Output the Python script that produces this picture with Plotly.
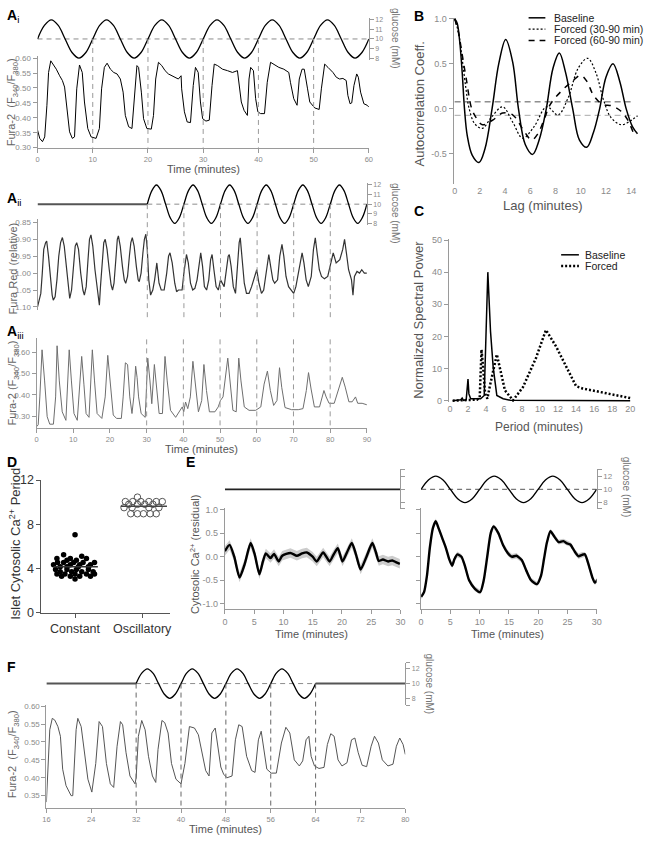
import numpy as np
import plotly.graph_objects as go

# ======================= DATA =======================
# --- Panel Ai: glucose (mM) sampled every 1.25 min, period 10 min
ai_glucose = [10, 11.41, 12, 11.41, 10, 8.59, 8, 8.59,
              10, 11.41, 12, 11.41, 10, 8.59, 8, 8.59,
              10, 11.41, 12, 11.41, 10, 8.59, 8, 8.59,
              10, 11.41, 12, 11.41, 10, 8.59, 8, 8.59,
              10, 11.41, 12, 11.41, 10, 8.59, 8, 8.59,
              10, 11.41, 12, 11.41, 10, 8.59, 8, 8.59, 10]
ai_marks = [10, 20, 30, 40, 50]
ai_fura = [(0, 0.359), (0.4, 0.331), (0.9, 0.32), (1.3, 0.336), (1.7, 0.442), (2.0, 0.552), (2.4, 0.591),
           (2.8, 0.58), (3.4, 0.563), (4.0, 0.541), (4.5, 0.525), (4.9, 0.503), (5.2, 0.453), (5.5, 0.397),
           (5.8, 0.353), (6.3, 0.331), (6.7, 0.336), (7.1, 0.497), (7.6, 0.577), (8.1, 0.552), (8.5, 0.453),
           (9.1, 0.364), (9.7, 0.336), (10.6, 0.331), (11.2, 0.364), (11.6, 0.497), (12.1, 0.569), (12.6, 0.583),
           (13.2, 0.563), (13.8, 0.552), (14.4, 0.547), (15.0, 0.53), (15.5, 0.486), (15.9, 0.408), (16.5, 0.37),
           (17.1, 0.364), (17.6, 0.497), (18.0, 0.575), (18.3, 0.569), (18.8, 0.486), (19.2, 0.397), (19.8, 0.364),
           (20.6, 0.362), (21.0, 0.408), (21.4, 0.53), (21.9, 0.586), (22.5, 0.575), (23.1, 0.558), (23.7, 0.547),
           (24.3, 0.541), (24.9, 0.536), (25.5, 0.53), (26.0, 0.541), (26.1, 0.497), (26.6, 0.42), (27.1, 0.386),
           (27.7, 0.384), (28.2, 0.508), (28.6, 0.569), (29.1, 0.552), (29.5, 0.453), (29.9, 0.397), (30.5, 0.389),
           (31.1, 0.392), (31.6, 0.508), (32.0, 0.58), (32.6, 0.575), (33.5, 0.563), (34.4, 0.558), (35.3, 0.552),
           (36.2, 0.558), (36.5, 0.519), (36.9, 0.453), (37.4, 0.425), (38.0, 0.408), (38.3, 0.53), (38.6, 0.569),
           (39.1, 0.558), (39.5, 0.464), (39.9, 0.42), (40.4, 0.414), (41.1, 0.414), (41.6, 0.519), (42.2, 0.586),
           (42.8, 0.58), (43.7, 0.569), (44.6, 0.563), (45.5, 0.552), (45.8, 0.519), (46.4, 0.464), (47.0, 0.442),
           (47.4, 0.53), (47.9, 0.563), (48.3, 0.563), (48.9, 0.497), (49.3, 0.453), (50.2, 0.433), (51.0, 0.428),
           (51.4, 0.497), (52.0, 0.58), (52.6, 0.569), (53.5, 0.552), (54.1, 0.536), (54.7, 0.53), (55.3, 0.532),
           (55.9, 0.525), (56.2, 0.475), (56.6, 0.447), (56.9, 0.45), (57.3, 0.508), (57.8, 0.547), (58.1, 0.536),
           (58.5, 0.486), (59.1, 0.447), (59.7, 0.442), (60.0, 0.436)]

# --- Panel Aii: glucose constant 0-30 min, then oscillating (period 10 min)
aii_glucose_flat = [(0, 10), (30, 10)]
aii_glucose = [10, 11.41, 12, 11.41, 10, 8.59, 8, 8.59,
               10, 11.41, 12, 11.41, 10, 8.59, 8, 8.59,
               10, 11.41, 12, 11.41, 10, 8.59, 8, 8.59,
               10, 11.41, 12, 11.41, 10, 8.59, 8, 8.59,
               10, 11.41, 12, 11.41, 10, 8.59, 8, 8.59,
               10, 11.41, 12, 11.41, 10, 8.59, 8, 8.59, 10]
aii_marks = [30, 40, 50, 60, 70, 80]
aii_furared = [(0, 1.10), (0.4, 1.08), (0.9, 1.06), (1.3, 1.0), (1.7, 0.93), (2.2, 0.91), (2.5, 0.905), (3.0, 0.95),
               (3.5, 1.02), (4.0, 1.065), (4.3, 1.08), (4.8, 1.07), (5.3, 1.02), (5.8, 0.95), (6.3, 0.91), (6.8, 0.895),
               (7.3, 0.92), (7.9, 0.99), (8.4, 1.05), (8.8, 1.075), (9.3, 1.05), (9.8, 0.98), (10.3, 0.92), (10.7, 0.91),
               (11.2, 0.93), (11.8, 1.0), (12.4, 1.05), (12.8, 1.065), (13.3, 1.04), (13.8, 0.96), (14.2, 0.90),
               (14.6, 0.887), (15.1, 0.92), (15.7, 0.99), (16.3, 1.05), (16.8, 1.08), (16.9, 1.095), (17.2, 1.04),
               (17.7, 0.96), (18.1, 0.91), (18.5, 0.90), (19.0, 0.93), (19.6, 0.99), (20.1, 1.035), (20.5, 1.05),
               (20.9, 1.03), (21.4, 0.96), (21.8, 0.90), (22.1, 0.89), (22.6, 0.92), (23.2, 0.98), (23.7, 1.02),
               (24.1, 1.03), (24.6, 1.01), (25.1, 0.95), (25.5, 0.91), (25.9, 0.895), (26.4, 0.92), (27.0, 0.98),
               (27.5, 1.02), (27.8, 1.025), (28.3, 1.0), (28.8, 0.94), (29.2, 0.90), (29.6, 0.885), (30.0, 0.93),
               (30.4, 1.02), (30.9, 1.065), (31.5, 1.05), (32.0, 1.02), (32.6, 0.97), (33.2, 1.03), (33.8, 1.05),
               (34.6, 1.05), (35.3, 1.00), (35.8, 0.95), (36.2, 0.94), (36.8, 0.97), (37.5, 1.03), (38.0, 1.055),
               (38.5, 1.05), (39.5, 1.05), (40.0, 1.0), (40.4, 0.96), (40.7, 0.945), (41.2, 0.97), (41.8, 1.03),
               (42.4, 1.05), (43.0, 1.045), (43.6, 1.02), (44.2, 0.96), (44.6, 0.94), (45.1, 0.98), (45.6, 1.04),
               (46.2, 1.05), (46.8, 1.02), (47.3, 0.96), (47.7, 0.945), (48.2, 0.99), (48.8, 1.04), (49.4, 1.05),
               (50.0, 1.02), (51.0, 1.04), (51.7, 0.98), (52.1, 0.95), (52.4, 0.945), (52.9, 0.98), (53.5, 1.04),
               (54.1, 1.06), (54.7, 0.97), (55.1, 0.91), (55.4, 0.896), (55.9, 0.95), (56.5, 1.03), (57.1, 1.06),
               (57.8, 1.06), (58.5, 1.04), (59.4, 1.01), (59.9, 0.99), (60.5, 1.03), (61.2, 1.06), (61.8, 1.05),
               (62.4, 1.0), (62.9, 0.955), (63.2, 0.945), (63.7, 0.98), (64.3, 1.02), (64.8, 1.03), (65.6, 1.02),
               (66.2, 0.95), (66.8, 0.915), (67.3, 0.95), (67.9, 1.01), (68.6, 1.04), (69.2, 1.05), (70.0, 1.06),
               (70.6, 1.04), (71.3, 1.0), (71.9, 0.955), (72.3, 0.94), (72.8, 0.97), (73.4, 1.02), (74.0, 1.04),
               (74.8, 1.01), (75.4, 0.93), (75.9, 0.896), (76.4, 0.94), (77.0, 0.99), (77.6, 1.01), (78.4, 1.017),
               (79.3, 1.01), (80.0, 0.98), (80.8, 0.94), (81.6, 0.97), (82.6, 0.96), (83.4, 0.93), (83.9, 0.90),
               (84.4, 0.94), (85.0, 0.99), (85.8, 1.02), (86.2, 1.065), (86.6, 1.01), (87.3, 0.995), (88.0, 1.0),
               (88.6, 0.99), (89.3, 1.0), (90.0, 1.0)]

# --- Panel Aiii
aiii_marks = [30, 40, 50, 60, 70, 80]
aiii_fura = [(0, 0.25), (0.45, 0.259), (0.9, 0.39), (1.5, 0.611), (2.2, 0.465), (2.9, 0.297), (3.6, 0.262),
             (4.6, 0.262), (5.2, 0.39), (5.6, 0.63), (6.2, 0.465), (7.0, 0.32), (8.0, 0.28), (8.5, 0.465),
             (8.9, 0.611), (9.5, 0.465), (10.2, 0.312), (11.1, 0.28), (11.8, 0.465), (12.3, 0.58), (12.9, 0.45),
             (13.5, 0.312), (14.3, 0.294), (14.7, 0.465), (15.2, 0.611), (15.8, 0.465), (16.5, 0.312), (17.8, 0.289),
             (18.7, 0.39), (19.4, 0.585), (20.0, 0.465), (20.5, 0.373), (20.9, 0.305), (21.8, 0.289), (23.1, 0.289),
             (23.6, 0.39), (24.2, 0.55), (24.8, 0.542), (25.4, 0.39), (26.0, 0.312), (26.5, 0.39), (27.0, 0.534),
             (27.4, 0.48), (27.8, 0.39), (28.5, 0.312), (29.6, 0.294), (30.3, 0.572), (30.9, 0.465), (31.4, 0.358),
             (32.1, 0.542), (32.7, 0.42), (33.4, 0.312), (34.3, 0.312), (35.0, 0.58), (35.6, 0.465), (36.5, 0.327),
             (37.9, 0.294), (39.0, 0.327), (39.7, 0.343), (40.1, 0.32), (40.6, 0.366), (41.2, 0.335), (41.9, 0.39),
             (42.6, 0.557), (43.2, 0.465), (44.1, 0.32), (45.0, 0.373), (45.6, 0.542), (46.3, 0.42), (47.1, 0.32),
             (48.6, 0.32), (49.5, 0.343), (50.1, 0.373), (50.8, 0.39), (52.1, 0.572), (52.8, 0.465), (53.5, 0.327),
             (54.4, 0.32), (55.1, 0.572), (55.7, 0.465), (56.6, 0.343), (57.9, 0.327), (59.7, 0.327), (61.1, 0.343),
             (62.0, 0.45), (62.9, 0.511), (63.7, 0.42), (64.6, 0.35), (65.5, 0.373), (66.2, 0.527), (66.8, 0.435),
             (67.7, 0.34), (69.5, 0.33), (71.3, 0.33), (72.6, 0.335), (73.5, 0.42), (74.1, 0.504), (74.8, 0.427),
             (75.7, 0.343), (77.1, 0.343), (78.3, 0.42), (78.9, 0.39), (79.7, 0.36), (81.1, 0.36), (82.4, 0.436),
             (83.3, 0.482), (84.1, 0.436), (85.1, 0.367), (86.0, 0.367), (86.9, 0.39), (87.5, 0.36), (88.7, 0.36),
             (90.0, 0.353)]

# --- Panel B: autocorrelation vs lag (minutes)
b_baseline = [(0, 1.0), (0.2, 0.95), (0.4, 0.75), (0.6, 0.4), (0.78, 0.0), (1.0, -0.3), (1.4, -0.52), (1.93, -0.6),
              (2.4, -0.45), (2.97, 0.0), (3.5, 0.5), (4.05, 0.77), (4.6, 0.52), (5.06, 0.0), (5.6, -0.4),
              (6.18, -0.51), (6.7, -0.35), (7.27, 0.0), (7.8, 0.45), (8.3, 0.62), (8.8, 0.4), (9.36, 0.0),
              (9.9, -0.35), (10.48, -0.43), (11.0, -0.27), (11.5, 0.0), (12.0, 0.35), (12.56, 0.5), (13.1, 0.3),
              (13.6, 0.0), (14.1, -0.2), (14.5, -0.28)]
b_forced_30_90 = [(0, 1.0), (0.3, 0.85), (0.6, 0.55), (0.9, 0.22), (1.15, 0.0), (1.6, -0.17), (2.2, -0.22),
                  (2.9, -0.1), (3.8, 0.02), (4.6, -0.15), (5.4, -0.33), (6.3, -0.2), (7.3, 0.02), (8.2, -0.07),
                  (9.0, 0.12), (9.8, 0.45), (10.55, 0.56), (11.2, 0.4), (11.8, 0.1), (12.4, -0.1), (13.2, -0.18),
                  (13.8, -0.15), (14.5, -0.08)]
b_forced_60_90 = [(0, 1.0), (0.3, 0.85), (0.6, 0.6), (0.9, 0.35), (1.35, 0.0), (1.7, -0.1), (2.2, -0.18),
                  (3.0, -0.13), (3.8, -0.05), (4.6, -0.07), (5.5, -0.25), (6.1, -0.35), (6.6, -0.28), (7.1, -0.12),
                  (7.6, 0.05), (8.5, 0.2), (9.3, 0.3), (10.0, 0.37), (10.5, 0.3), (11.0, 0.15), (11.7, 0.05),
                  (12.5, 0.03), (13.2, -0.03), (13.7, -0.12), (14.2, -0.28)]
b_conf = [0.075, -0.075]

# --- Panel C: normalized spectral power vs period (minutes)
c_baseline = [(0.3, 0), (1.2, 0.3), (1.35, 0.8), (1.5, 0.1), (1.8, 0.3), (2.0, 6.7), (2.1, 2.1), (2.3, 0.6),
              (3.0, 0.6), (3.4, 0.6), (3.8, 1.6), (4.2, 40.0), (4.5, 21.5), (4.8, 10.3), (5.2, 1.6), (5.9, 0.6),
              (6.7, 0.1), (20.0, 0.0)]
c_forced = [(0.3, 0), (3.0, 0.3), (3.3, 1.0), (3.5, 15.9), (3.65, 11.3), (3.9, 2.1), (4.15, 0.6), (4.4, 4.2),
            (5.2, 14.4), (5.5, 10.3), (6.1, 3.2), (7.0, 0.1), (8.1, 4.2), (9.55, 13.3), (10.65, 22.0),
            (11.75, 17.0), (14.0, 4.5), (14.7, 3.8), (20.0, 0.8)]

# --- Panel D: islet period (minutes) per condition
d_categories = ["Constant", "Oscillatory"]
d_constant_jitter = [0.0, -0.17, 0.1, -0.27, -0.07, 0.17, -0.12, 0.02, -0.26, -0.17, -0.02, 0.12, 0.29,
                     -0.32, -0.07, 0.07, 0.23, -0.22, -0.12, 0.05, 0.2, -0.29, -0.12, 0.02, 0.2, -0.22, -0.05,
                     0.1, 0.27, -0.27, -0.15, 0.0, 0.17, 0.29, -0.2, -0.07, 0.07, 0.23, 0.0]
d_constant = [7.05, 5.25, 5.1, 4.9, 4.9, 4.9, 4.75, 4.75, 4.55, 4.55, 4.55, 4.55, 4.55,
              4.35, 4.35, 4.35, 4.35, 4.15, 4.15, 4.15, 4.15, 3.9, 3.9, 3.9, 3.9, 3.7, 3.7,
              3.7, 3.7, 3.5, 3.5, 3.5, 3.5, 3.5, 3.3, 3.3, 3.3, 3.3, 3.05]
d_osc_jitter = [-0.07, -0.25, -0.14, -0.02, 0.1, 0.21, 0.3, -0.2, -0.07, 0.04, 0.16,
                -0.27, -0.15, 0.1, 0.25, -0.17, -0.07, 0.02, 0.12, 0.21]
d_oscillatory = [10.45, 10.05, 10.05, 10.05, 10.05, 10.05, 10.05, 9.8, 9.8, 9.8, 9.8,
                 9.5, 9.5, 9.5, 9.5, 8.95, 8.95, 8.95, 8.95, 8.95]

# --- Panel E: residual cytosolic Ca2+ (time, mean, sem)
e_left = [(0, 0.12, 0.1), (0.8, 0.25, 0.1), (1.6, 0.0, 0.1), (2.5, -0.44, 0.1), (3.4, -0.15, 0.1),
          (4.4, 0.29, 0.1), (5.1, 0.05, 0.1), (5.9, -0.37, 0.1), (6.5, -0.1, 0.1), (7.0, 0.07, 0.1),
          (7.8, -0.03, 0.1), (8.4, 0.06, 0.1), (9.2, -0.1, 0.1), (9.8, 0.02, 0.1), (11.2, 0.08, 0.1),
          (12.3, 0.02, 0.1), (13.2, 0.07, 0.1), (14.0, 0.09, 0.1), (15.0, 0.0, 0.1), (15.7, -0.1, 0.1),
          (16.8, 0.09, 0.1), (17.9, -0.1, 0.1), (18.6, 0.05, 0.1), (19.3, 0.18, 0.1), (20.1, -0.1, 0.1),
          (20.9, 0.1, 0.1), (21.7, 0.29, 0.1), (22.4, 0.05, 0.1), (23.2, -0.27, 0.1), (24.2, 0.0, 0.1),
          (25.2, 0.29, 0.1), (25.8, 0.1, 0.1), (26.3, -0.09, 0.1), (27.0, -0.06, 0.1), (27.9, -0.1, 0.1),
          (28.6, -0.08, 0.1), (29.3, -0.12, 0.1), (29.9, -0.15, 0.1)]
e_glucose_flat = [(0, 10), (30, 10)]
e_glucose = [10, 11.41, 12, 11.41, 10, 8.59, 8, 8.59,
             10, 11.41, 12, 11.41, 10, 8.59, 8, 8.59,
             10, 11.41, 12, 11.41, 10, 8.59, 8, 8.59, 10]
e_right = [(0, -0.85, 0.05), (0.5, -0.75, 0.05), (1.0, -0.4, 0.05), (1.5, 0.2, 0.06), (2.0, 0.6, 0.06),
           (2.5, 0.75, 0.06), (3.0, 0.6, 0.05), (3.6, 0.4, 0.05), (4.2, 0.2, 0.05), (4.8, -0.05, 0.05),
           (5.3, -0.19, 0.05), (5.7, -0.05, 0.06), (6.2, 0.05, 0.06), (6.9, 0.0, 0.05), (7.5, -0.2, 0.05),
           (8.2, -0.5, 0.05), (9.2, -0.68, 0.05), (10.1, -0.75, 0.05), (10.7, -0.5, 0.05), (11.3, 0.0, 0.05),
           (11.9, 0.5, 0.05), (12.4, 0.64, 0.05), (13.2, 0.5, 0.05), (14.0, 0.25, 0.05), (14.8, 0.08, 0.06),
           (15.5, 0.0, 0.06), (16.3, 0.02, 0.06), (17.2, -0.07, 0.05), (18.0, -0.3, 0.05), (18.8, -0.5, 0.05),
           (19.8, -0.58, 0.05), (20.5, -0.4, 0.05), (21.0, -0.05, 0.05), (21.5, 0.3, 0.05), (22.1, 0.54, 0.05),
           (22.8, 0.42, 0.05), (23.5, 0.31, 0.05), (24.3, 0.33, 0.05), (25.0, 0.28, 0.05), (25.5, 0.26, 0.05),
           (26.3, 0.1, 0.06), (26.9, 0.01, 0.06), (27.5, 0.04, 0.06), (28.0, 0.05, 0.05), (28.7, -0.2, 0.05),
           (29.3, -0.45, 0.05), (29.7, -0.55, 0.05), (30.2, -0.48, 0.05)]

# --- Panel F: glucose constant, oscillating (period 8 min) 32-64 min, constant again
f_glucose_flat1 = [(16, 10), (32, 10)]
f_glucose = [10, 11.41, 12, 11.41, 10, 8.59, 8, 8.59,
             10, 11.41, 12, 11.41, 10, 8.59, 8, 8.59,
             10, 11.41, 12, 11.41, 10, 8.59, 8, 8.59,
             10, 11.41, 12, 11.41, 10, 8.59, 8, 8.59, 10]
f_glucose_flat2 = [(64, 10), (80, 10)]
f_marks = [32, 40, 48, 56, 64]
f_fura = [(16, 0.332), (16.6, 0.534), (17.05, 0.566), (17.5, 0.561), (18.05, 0.543), (18.5, 0.516), (18.9, 0.424),
          (19.5, 0.378), (20.4, 0.35), (20.7, 0.35), (21.3, 0.534), (21.6, 0.566), (22.2, 0.543), (22.8, 0.47),
          (23.4, 0.396), (24.1, 0.36), (24.8, 0.44), (25.4, 0.557), (26.0, 0.543), (26.7, 0.44), (27.4, 0.383),
          (28.0, 0.373), (28.6, 0.488), (29.2, 0.557), (29.6, 0.548), (30.2, 0.47), (30.9, 0.405), (31.8, 0.383),
          (32.0, 0.40), (32.4, 0.516), (33.0, 0.56), (33.6, 0.534), (34.2, 0.46), (34.9, 0.405), (35.5, 0.387),
          (35.9, 0.479), (36.6, 0.56), (37.1, 0.554), (37.7, 0.525), (38.3, 0.44), (39.1, 0.396), (40.0, 0.383),
          (40.7, 0.44), (41.5, 0.543), (42.4, 0.539), (43.1, 0.52), (43.7, 0.47), (44.4, 0.42), (45.0, 0.405),
          (45.5, 0.525), (46.1, 0.539), (46.6, 0.488), (47.1, 0.43), (47.6, 0.41), (48.2, 0.40), (49.1, 0.405),
          (49.7, 0.506), (50.3, 0.548), (50.9, 0.543), (51.7, 0.46), (52.6, 0.42), (53.2, 0.415), (53.8, 0.506),
          (54.3, 0.53), (54.7, 0.488), (55.3, 0.424), (56.1, 0.413), (57.0, 0.413), (57.9, 0.497), (58.7, 0.541),
          (59.4, 0.525), (60.2, 0.45), (61.1, 0.433), (61.7, 0.447), (62.3, 0.506), (62.8, 0.516), (63.2, 0.46),
          (63.8, 0.433), (64.6, 0.426), (65.5, 0.429), (66.1, 0.493), (66.7, 0.523), (67.3, 0.516), (68.0, 0.45),
          (68.7, 0.433), (69.6, 0.442), (70.4, 0.506), (71.0, 0.511), (71.6, 0.47), (72.3, 0.435), (73.1, 0.431),
          (73.9, 0.488), (74.5, 0.516), (75.2, 0.497), (75.9, 0.45), (76.9, 0.433), (77.8, 0.438), (78.4, 0.488),
          (79.0, 0.511), (79.6, 0.493), (80.0, 0.465)]

# ======================= LAYOUT HELPERS =======================
W, H = 647, 842
FONT = "Liberation Sans, Arial, Helvetica, sans-serif"
AX = "#9a9a9a"
TK = "#8a8a8a"


def dom_x(a, b):
    return [a / W, b / W]


def dom_y(top, bottom):
    return [1 - bottom / H, 1 - top / H]


def to_paper_y(dom_px, rng, v):
    top, bot = dom_px
    lo, hi = rng
    return 1 - (bot - (v - lo) / (hi - lo) * (bot - top)) / H


def xa(dom, rng, anchor, **kw):
    d = dict(domain=dom_x(*dom), range=rng, anchor=anchor, showgrid=False, zeroline=False,
             showline=True, linecolor=AX, linewidth=1, ticks="outside", tickcolor=AX, ticklen=4,
             tickwidth=1, tickfont=dict(family=FONT, size=7.5, color=TK), fixedrange=True)
    d.update(kw)
    return d


def ya(dom, rng, anchor, **kw):
    d = dict(domain=dom_y(*dom), range=rng, anchor=anchor, showgrid=False, zeroline=False,
             showline=True, linecolor=AX, linewidth=1, ticks="outside", tickcolor=AX, ticklen=4,
             tickwidth=1, tickfont=dict(family=FONT, size=8, color=TK), fixedrange=True)
    d.update(kw)
    return d


fig = go.Figure()


def ref(n):
    return ("x" if n == 1 else f"x{n}"), ("y" if n == 1 else f"y{n}")


def add_line(n, x, y, color="black", width=1.0, dash=None, shape="linear", smoothing=None, fill=None,
             fillcolor=None):
    xr, yr = ref(n)
    ln = dict(color=color, width=width, shape=shape)
    if dash:
        ln["dash"] = dash
    if smoothing is not None:
        ln["smoothing"] = smoothing
    tr = go.Scatter(x=list(x), y=list(y), xaxis=xr, yaxis=yr, mode="lines", line=ln,
                    hoverinfo="skip", showlegend=False, cliponaxis=False)
    if fill:
        tr.fill = fill
        tr.fillcolor = fillcolor
    fig.add_trace(tr)


def unzip(pairs):
    return [p[0] for p in pairs], [p[1] for p in pairs]


DASH = "5px,4px"
layout_axes = {}
shapes = []
annotations = []


def ann(text, x, y, size=11, color="#555", angle=0, xanchor="center", yanchor="middle"):
    annotations.append(dict(text=text, x=x / W, y=1 - y / H, xref="paper", yref="paper", showarrow=False,
                            font=dict(family=FONT, size=size, color=color), textangle=angle,
                            xanchor=xanchor, yanchor=yanchor, borderpad=0))


# ---------------- Panel Ai ----------------
G1_DOM, G1_RNG = (11, 54), [7.795, 12.205]
layout_axes["xaxis"] = xa((34, 370), [0, 60], "y", visible=False)
layout_axes["yaxis"] = ya(G1_DOM, G1_RNG, "x", side="right", tickvals=[8, 9, 10, 11, 12],
                          tickfont=dict(family=FONT, size=7, color=TK), ticklen=4)
t = np.arange(len(ai_glucose)) * 1.25
add_line(1, [0, 60], [10, 10], color="#8c8c8c", width=1, dash=DASH)
add_line(1, t, ai_glucose, color="black", width=1.3, shape="spline", smoothing=1.0)

M1_DOM, M1_RNG = (50, 143), [0.30, 0.6066]
layout_axes["xaxis2"] = xa((34, 370), [0, 60], "y2", tickvals=list(range(0, 61, 10)))
layout_axes["yaxis2"] = ya(M1_DOM, M1_RNG, "x2", tickvals=[0.30, 0.35, 0.40, 0.45, 0.50, 0.55, 0.60],
                           tickformat=".2f")
tx, vy = unzip(ai_fura)
add_line(2, tx, vy, color="black", width=1.0)
for m in ai_marks:
    shapes.append(dict(type="line", xref="x2", yref="paper", x0=m, x1=m,
                       y0=to_paper_y(G1_DOM, G1_RNG, 10), y1=1 - M1_DOM[1] / H,
                       line=dict(color="#9a9a9a", width=1, dash=DASH)))

# ---------------- Panel Aii ----------------
G2_DOM, G2_RNG = (179, 222), [7.795, 12.205]
layout_axes["xaxis3"] = xa((34, 368), [0, 90], "y3", visible=False)
layout_axes["yaxis3"] = ya(G2_DOM, G2_RNG, "x3", side="right", tickvals=[8, 9, 10, 11, 12],
                           tickfont=dict(family=FONT, size=7, color=TK))
fx, fy = unzip(aii_glucose_flat)
add_line(3, fx, fy, color="#555555", width=2)
add_line(3, [30, 90], [10, 10], color="#8c8c8c", width=1, dash=DASH)
t = 30 + np.arange(len(aii_glucose)) * 1.25
add_line(3, t, aii_glucose, color="black", width=1.3, shape="spline", smoothing=1.0)

M2_DOM, M2_RNG = (216, 308), [1.1087, 0.8413]
layout_axes["xaxis4"] = xa((34, 368), [0, 90], "y4", visible=False)
layout_axes["yaxis4"] = ya(M2_DOM, M2_RNG, "x4", tickvals=[0.85, 0.90, 0.95, 1.00, 1.05, 1.10],
                           tickformat=".2f")
tx, vy = unzip(aii_furared)
add_line(4, tx, vy, color="#333333", width=1.2)
for m in aii_marks:
    shapes.append(dict(type="line", xref="x4", yref="paper", x0=m, x1=m,
                       y0=to_paper_y(G2_DOM, G2_RNG, 10), y1=1 - 317 / H,
                       line=dict(color="#9a9a9a", width=1, dash=DASH)))

# ---------------- Panel Aiii ----------------
M3_DOM, M3_RNG = (337, 428), [0.2446, 0.6646]
layout_axes["xaxis5"] = xa((33, 368), [0, 90], "y5", tickvals=list(range(0, 91, 10)))
layout_axes["yaxis5"] = ya(M3_DOM, M3_RNG, "x5", tickvals=[0.30, 0.40, 0.50, 0.60], tickformat=".2f")
tx, vy = unzip(aiii_fura)
add_line(5, tx, vy, color="#6e6e6e", width=1.0)
for m in aiii_marks:
    shapes.append(dict(type="line", xref="x5", yref="paper", x0=m, x1=m,
                       y0=1 - 338 / H, y1=1 - M3_DOM[1] / H,
                       line=dict(color="#9a9a9a", width=1, dash=DASH)))

# ---------------- Panel B ----------------
layout_axes["xaxis6"] = xa((456, 646), [-0.078, 14.78], "y6", tickvals=list(range(0, 15, 2)),
                           tickfont=dict(family=FONT, size=9, color=TK), showline=False, ticks="")
layout_axes["yaxis6"] = ya((11, 180), [-0.84, 1.011], "x6", tickvals=[-0.5, 0, 0.5, 1.0],
                           ticktext=["-0.5", "0.0", "0.5", "1.0"],
                           tickfont=dict(family=FONT, size=9, color=TK))
add_line(6, [0, 14], [b_conf[0]] * 2, color="#555555", width=1, dash="6px,4px")
add_line(6, [0, 14], [b_conf[1]] * 2, color="#aaaaaa", width=1, dash="6px,4px")
bx, by = unzip(b_forced_30_90)
add_line(6, bx, by, color="black", width=1.2, dash="2px,2px", shape="spline", smoothing=1.0)
bx, by = unzip(b_forced_60_90)
add_line(6, bx, by, color="black", width=1.5, dash="6px,6px", shape="spline", smoothing=1.0)
bx, by = unzip(b_baseline)
add_line(6, bx, by, color="black", width=1.5, shape="spline", smoothing=1.0)

# ---------------- Panel C ----------------
layout_axes["xaxis7"] = xa((451, 636), [-0.14, 20.11], "y7", tickvals=list(range(0, 21, 2)),
                           tickfont=dict(family=FONT, size=9, color=TK), showline=False, ticks="")
layout_axes["yaxis7"] = ya((236, 402), [-0.52, 50.3], "x7", tickvals=[0, 10, 20, 30, 40, 50],
                           tickfont=dict(family=FONT, size=9, color=TK))
cx, cy = unzip(c_forced)
add_line(7, cx, cy, color="black", width=2.5, dash="2px,2px")
cx, cy = unzip(c_baseline)
add_line(7, cx, cy, color="black", width=1.5)

# ---------------- Panel D ----------------
layout_axes["xaxis8"] = xa((38, 168), [0.5, 2.41], "y8", tickvals=[1, 2], ticktext=d_categories,
                           linecolor="#555", tickcolor="#555",
                           tickfont=dict(family=FONT, size=12.5, color="#333"))
layout_axes["yaxis8"] = ya((481, 616), [0, 12], "x8", tickvals=[0, 4, 8, 12], linecolor="#555",
                           tickcolor="#555", tickfont=dict(family=FONT, size=12.5, color="#333"))
fig.add_trace(go.Scatter(x=[1 + j for j in d_constant_jitter], y=d_constant, xaxis="x8", yaxis="y8",
                         mode="markers", marker=dict(symbol="circle", size=5.5, color="black"),
                         hoverinfo="skip", showlegend=False))
fig.add_trace(go.Scatter(x=[2 + j for j in d_osc_jitter], y=d_oscillatory, xaxis="x8", yaxis="y8",
                         mode="markers",
                         marker=dict(symbol="circle-open", size=6.5, color="#555", line=dict(width=1)),
                         hoverinfo="skip", showlegend=False))
add_line(8, [1 - 0.32, 1 + 0.34], [float(np.mean(d_constant))] * 2, color="#333", width=1.5)
add_line(8, [2 - 0.32, 2 + 0.37], [float(np.mean(d_oscillatory))] * 2, color="#444", width=1.5)

# ---------------- Panel E ----------------
EG_DOM, EG_RNG = (470, 510), [7.11, 13.04]
EM_DOM, EM_RNG = (509, 612), [-1.104, 1.042]
layout_axes["xaxis9"] = xa((224, 402), [0, 30], "y9", visible=False)
layout_axes["yaxis9"] = ya(EG_DOM, EG_RNG, "x9", side="right", tickvals=[7.11, 8, 10, 12, 13.04],
                           showticklabels=False)
fx, fy = unzip(e_glucose_flat)
add_line(9, fx, fy, color="#222", width=1.8)
layout_axes["xaxis10"] = xa((224, 402), [0, 30], "y10", tickvals=list(range(0, 31, 5)),
                            tickfont=dict(family=FONT, size=9, color=TK))
layout_axes["yaxis10"] = ya(EM_DOM, EM_RNG, "x10", tickvals=[-1, -0.5, 0, 0.5, 1],
                            ticktext=["-1.0", "-0.5", "0.0", "0.5", "1.0"],
                            tickfont=dict(family=FONT, size=9, color=TK))
ex = [p[0] for p in e_left]
em = [p[1] for p in e_left]
es = [p[2] for p in e_left]
add_line(10, ex + ex[::-1], [m + s for m, s in zip(em, es)] + [m - s for m, s in zip(em, es)][::-1],
         color="rgba(0,0,0,0)", width=0, fill="toself", fillcolor="#cccccc")
add_line(10, ex, em, color="black", width=2.4, shape="spline", smoothing=0.6)

layout_axes["xaxis11"] = xa((423, 601), [0, 30], "y11", visible=False)
layout_axes["yaxis11"] = ya(EG_DOM, EG_RNG, "x11", side="right", tickvals=[7.11, 8, 10, 12, 13.04],
                            ticktext=["", "8", "10", "12", ""],
                            tickfont=dict(family=FONT, size=8, color=TK))
add_line(11, [0, 30], [10, 10], color="#777", width=1.2, dash=DASH)
t = np.arange(len(e_glucose)) * 1.25
add_line(11, t, e_glucose, color="black", width=1.4, shape="spline", smoothing=1.0)
layout_axes["xaxis12"] = xa((423, 601), [0, 30], "y12", tickvals=list(range(0, 31, 5)),
                            tickfont=dict(family=FONT, size=9, color=TK))
layout_axes["yaxis12"] = ya(EM_DOM, EM_RNG, "x12", tickvals=[-1, -0.5, 0, 0.5, 1], showticklabels=False)
ex = [p[0] for p in e_right]
em = [p[1] for p in e_right]
es = [p[2] for p in e_right]
add_line(12, ex + ex[::-1], [m + s for m, s in zip(em, es)] + [m - s for m, s in zip(em, es)][::-1],
         color="rgba(0,0,0,0)", width=0, fill="toself", fillcolor="#cccccc")
add_line(12, ex, em, color="black", width=2.4, shape="spline", smoothing=0.6)

# ---------------- Panel F ----------------
FG_DOM, FG_RNG = (667, 710), [7.07, 12.8]
FM_DOM, FM_RNG = (710, 815), [0.3143, 0.6027]
layout_axes["xaxis13"] = xa((43, 407), [16, 80], "y13", visible=False)
layout_axes["yaxis13"] = ya(FG_DOM, FG_RNG, "x13", side="right", tickvals=[7.07, 8, 10, 12, 12.8],
                            ticktext=["", "8", "10", "12", ""],
                            tickfont=dict(family=FONT, size=7, color=TK))
fx, fy = unzip(f_glucose_flat1)
add_line(13, fx, fy, color="#555555", width=2)
fx, fy = unzip(f_glucose_flat2)
add_line(13, fx, fy, color="#555555", width=2)
add_line(13, [32, 64], [10, 10], color="#8c8c8c", width=1, dash=DASH)
t = 32 + np.arange(len(f_glucose)) * 1.0
add_line(13, t, f_glucose, color="black", width=1.3, shape="spline", smoothing=1.0)
layout_axes["xaxis14"] = xa((43, 407), [16, 80], "y14", tickvals=list(range(16, 81, 8)))
layout_axes["yaxis14"] = ya(FM_DOM, FM_RNG, "x14", tickvals=[0.35, 0.40, 0.45, 0.50, 0.55, 0.60],
                            tickformat=".2f")
tx, vy = unzip(f_fura)
add_line(14, tx, vy, color="#555555", width=1.0)
for m in f_marks:
    shapes.append(dict(type="line", xref="x14", yref="paper", x0=m, x1=m,
                       y0=to_paper_y(FG_DOM, FG_RNG, 10), y1=1 - FM_DOM[1] / H,
                       line=dict(color="#666", width=1, dash=DASH)))


# ---------------- Legends (B, C) ----------------
def legend_item(x0, x1, xt, y, label, dash, width):
    ln = dict(color="black", width=width)
    if dash:
        ln["dash"] = dash
    shapes.append(dict(type="line", xref="paper", yref="paper", x0=x0 / W, x1=x1 / W,
                       y0=1 - y / H, y1=1 - y / H, line=ln))
    ann(label, xt, y, size=10.5, color="#222", xanchor="left")


legend_item(532, 549, 557, 11, "Baseline", None, 1.5)
legend_item(532, 549, 557, 22.5, "Forced (30-90 min)", "2px,2px", 1.2)
legend_item(532, 549, 557, 34, "Forced (60-90 min)", "6px,5px", 1.5)
legend_item(565, 583, 588, 252, "Baseline", None, 1.5)
legend_item(565, 583, 588, 263.5, "Forced", "2px,2px", 2.5)

# ---------------- Titles & panel labels ----------------
ann("<b>A</b><sub>i</sub>", 2, 9, size=14, color="black", xanchor="left")
ann("<b>A</b><sub>ii</sub>", 2, 195, size=14, color="black", xanchor="left")
ann("<b>A</b><sub>iii</sub>", 2, 330, size=14, color="black", xanchor="left")
ann("<b>B</b>", 421, 9, size=14, color="black")
ann("<b>C</b>", 421, 207, size=14, color="black")
ann("<b>D</b>", 8, 463, size=14, color="black")
ann("<b>E</b>", 189, 463, size=14, color="black")
ann("<b>F</b>", 8, 671, size=14, color="black")

ann("Fura-2  (F<sub>340</sub>/F<sub>380</sub>)", 9, 97, size=11, color="#666", angle=-90)
ann("Time (minutes)", 202, 165, size=11, color="#555")
ann("glucose (mM)", 397, 32, size=10, color="#777", angle=90)
ann("Fura Red (relative)", 9, 266, size=11, color="#666", angle=-90)
ann("glucose (mM)", 397, 210, size=10, color="#777", angle=90)
ann("Fura-2 (F<sub>340</sub>/F<sub>380</sub>)", 9, 382, size=11, color="#666", angle=-90)
ann("Time (minutes)", 200, 449, size=11, color="#555")

ann("Autocorrelation Coeff.", 421, 98, size=13, color="#555", angle=-90)
ann("Lag (minutes)", 546, 202, size=13, color="#555")
ann("Normalized Spectral Power", 421, 318, size=13, color="#555", angle=-90)
ann("Period (minutes)", 543, 427, size=12, color="#555")

ann("Islet Cytosolic Ca<sup>2+</sup> Period", 11, 546, size=13, color="#333", angle=-90)
ann("Cytosolic Ca<sup>2+</sup> (residual)", 193, 557, size=11, color="#555", angle=-90)
ann("Time (minutes)", 312, 638, size=11, color="#555")
ann("Time (minutes)", 511, 638, size=11, color="#555")
ann("glucose (mM)", 631, 488, size=10, color="#777", angle=90)

ann("Fura-2  (F<sub>340</sub>/F<sub>380</sub>)", 10, 760, size=11, color="#666", angle=-90)
ann("Time (minutes)", 225, 836, size=11, color="#555")
ann("glucose (mM)", 431, 688, size=10, color="#777", angle=90)

fig.update_layout(width=W, height=H, autosize=False, margin=dict(l=0, r=0, t=0, b=0, pad=0),
                  paper_bgcolor="white", plot_bgcolor="rgba(0,0,0,0)", showlegend=False,
                  font=dict(family=FONT), shapes=shapes, annotations=annotations, **layout_axes)

fig.write_html("out.html", config={"displayModeBar": False, "staticPlot": True},
               post_script="document.documentElement.style.margin='0';document.body.style.margin='0';"
                           "document.body.style.padding='0';document.body.style.overflow='hidden';")
